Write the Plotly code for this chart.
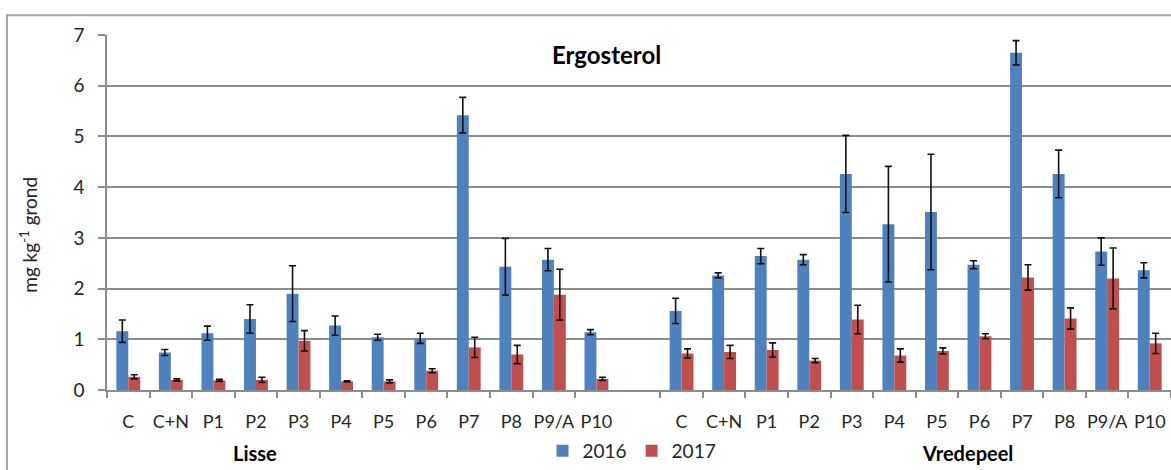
import plotly.graph_objects as go

# Treatment labels per site
treatments = ["C", "C+N", "P1", "P2", "P3", "P4", "P5", "P6", "P7", "P8", "P9/A", "P10"]
sites = ["Lisse", "Vredepeel"]
years = ["2016", "2017"]

# Ergosterol (mg/kg soil), mean and error per treatment
lisse_2016 = [1.16, 0.74, 1.12, 1.40, 1.90, 1.27, 1.04, 1.02, 5.42, 2.43, 2.57, 1.14]
lisse_2016_err = [0.22, 0.06, 0.14, 0.28, 0.55, 0.19, 0.06, 0.10, 0.35, 0.56, 0.22, 0.05]
lisse_2017 = [0.26, 0.20, 0.19, 0.20, 0.97, 0.17, 0.17, 0.38, 0.84, 0.70, 1.88, 0.22]
lisse_2017_err = [0.04, 0.02, 0.02, 0.05, 0.20, 0.01, 0.03, 0.04, 0.20, 0.18, 0.50, 0.03]
vredepeel_2016 = [1.56, 2.26, 2.64, 2.57, 4.26, 3.27, 3.51, 2.47, 6.65, 4.26, 2.73, 2.36]
vredepeel_2016_err = [0.25, 0.05, 0.15, 0.10, 0.76, 1.14, 1.14, 0.08, 0.24, 0.47, 0.27, 0.15]
vredepeel_2017 = [0.72, 0.75, 0.79, 0.58, 1.39, 0.68, 0.77, 1.06, 2.22, 1.41, 2.20, 0.92]
vredepeel_2017_err = [0.09, 0.13, 0.14, 0.04, 0.28, 0.13, 0.06, 0.05, 0.25, 0.21, 0.60, 0.20]

COLORS = {"2016": "#4F81BD", "2017": "#C0504D"}
FONT = "Lato, 'Open Sans', sans-serif"
GRID = "#8C8C8C"

# Single category axis: Lisse treatments, an empty spacer slot, Vredepeel treatments
gap_key = "gap"
lisse_keys = [f"Lisse|{t}" for t in treatments]
vrede_keys = [f"Vredepeel|{t}" for t in treatments]
cat_keys = lisse_keys + [gap_key] + vrede_keys

series = {
    "2016": (lisse_2016 + [None] + vredepeel_2016, lisse_2016_err + [None] + vredepeel_2016_err),
    "2017": (lisse_2017 + [None] + vredepeel_2017, lisse_2017_err + [None] + vredepeel_2017_err),
}

fig = go.Figure()
for yr in years:
    vals, errs = series[yr]
    fig.add_trace(go.Bar(
        name=yr,
        x=cat_keys,
        y=vals,
        marker=dict(color=COLORS[yr], line=dict(width=0)),
        error_y=dict(type="data", array=errs, visible=True,
                     color="#111111", thickness=1.6, width=3.5),
    ))

# Pixel geometry of the plot area
W, H = 1171, 470
L, R, T, B = 107, 0, 35, 76
pw = W - L - R
ph = H - T - B


def px_x(px):
    return (px - L) / pw


def px_y(py):
    return (H - B - py) / ph


annotations = [
    dict(text="<b>Ergosterol</b>", x=px_x(606), y=px_y(55), xref="paper", yref="paper",
         showarrow=False, font=dict(family=FONT, size=24, color="#000000"),
         xanchor="center", yanchor="middle"),
    dict(text="mg kg<sup>-1</sup> grond", x=px_x(29), y=px_y(237), xref="paper", yref="paper",
         showarrow=False, textangle=-90, font=dict(family=FONT, size=19, color="#262626"),
         xanchor="center", yanchor="middle"),
    dict(text="<b>Lisse</b>", x=px_x(255), y=px_y(458), xref="paper", yref="paper",
         showarrow=False, font=dict(family=FONT, size=20, color="#000000"),
         xanchor="center", yanchor="middle"),
    dict(text="<b>Vredepeel</b>", x=px_x(967), y=px_y(458), xref="paper", yref="paper",
         showarrow=False, font=dict(family=FONT, size=20, color="#000000"),
         xanchor="center", yanchor="middle"),
]

# Outer chart frame
shapes = [
    dict(type="rect", xref="paper", yref="paper",
         x0=px_x(7), x1=px_x(1185), y0=px_y(490), y1=px_y(15),
         line=dict(color="#A6A6A6", width=2), fillcolor="rgba(0,0,0,0)", layer="below"),
]

fig.update_layout(
    width=W, height=H,
    margin=dict(l=L, r=R, t=T, b=B, pad=0),
    paper_bgcolor="white", plot_bgcolor="white",
    barmode="group", bargap=0.44, bargroupgap=0,
    font=dict(family=FONT, color="#262626"),
    showlegend=True,
    legend=dict(orientation="h", x=px_x(632), y=px_y(456), xanchor="center", yanchor="middle",
                font=dict(family=FONT, size=19, color="#262626"),
                itemwidth=30, tracegroupgap=0, bgcolor="rgba(0,0,0,0)"),
    annotations=annotations,
    shapes=shapes,
)

fig.update_xaxes(
    type="category",
    categoryorder="array", categoryarray=cat_keys,
    tickmode="array", tickvals=lisse_keys + vrede_keys, ticktext=treatments + treatments,
    tickson="boundaries",
    tickangle=0,
    range=[-0.5, len(cat_keys) - 0.5],
    showline=True, linecolor=GRID, linewidth=1.5,
    ticks="outside", ticklen=6, tickcolor=GRID, tickwidth=1.5,
    showgrid=False,
    tickfont=dict(family=FONT, size=18, color="#262626"),
    ticklabelstandoff=15,
)

fig.update_yaxes(
    range=[0, 7], dtick=1, tick0=0,
    showgrid=True, gridcolor=GRID, gridwidth=1.5,
    showline=True, linecolor=GRID, linewidth=1.5,
    ticks="outside", ticklen=7, tickcolor=GRID, tickwidth=1.5,
    tickfont=dict(family=FONT, size=19, color="#262626"),
    ticklabelstandoff=10,
    zeroline=False,
)

fig.write_html("out.html")
